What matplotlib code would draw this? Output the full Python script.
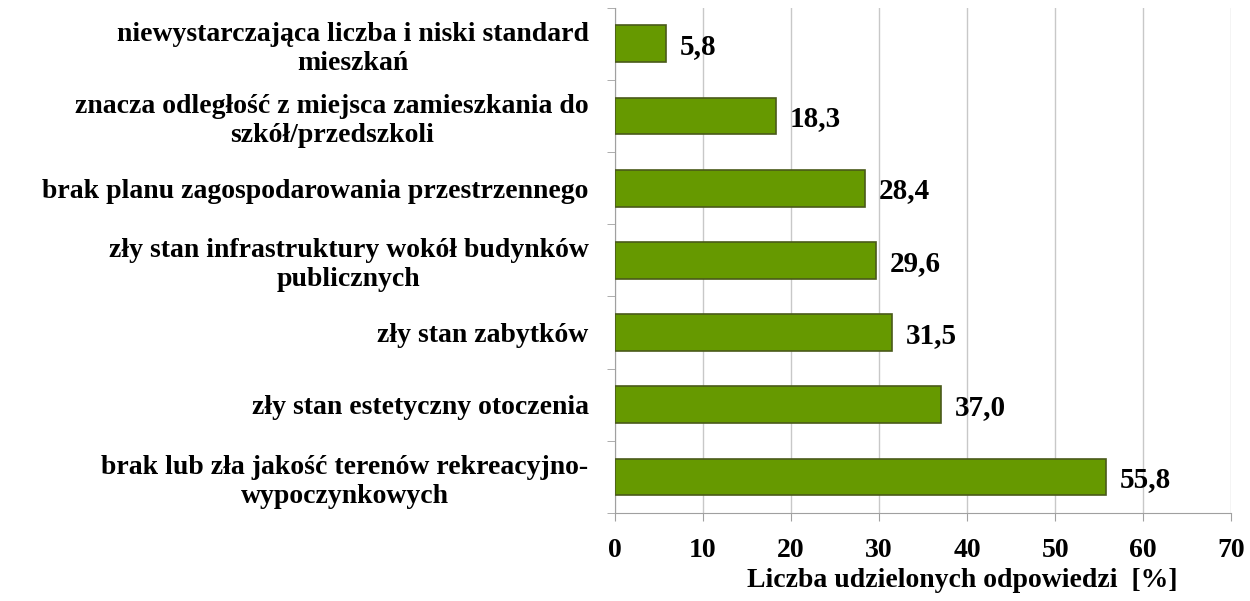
import matplotlib.pyplot as plt
import numpy as np

# kategorie (od góry do dołu) i wartości w %
kategorie = [
    'niewystarczająca liczba i niski standard\nmieszkań',
    'znacza odległość z miejsca zamieszkania do\nszkół/przedszkoli',
    'brak planu zagospodarowania przestrzennego',
    'zły stan infrastruktury wokół budynków\npublicznych',
    'zły stan zabytków',
    'zły stan estetyczny otoczenia',
    'brak lub zła jakość terenów rekreacyjno-\nwypoczynkowych',
]
wartosci = [5.8, 18.3, 28.4, 29.6, 31.5, 37.0, 55.8]
x_ticks = [0, 10, 20, 30, 40, 50, 60, 70]

plt.rcParams['font.family'] = ['Liberation Serif', 'DejaVu Serif']
plt.rcParams['font.weight'] = 'bold'

fig = plt.figure(figsize=(12.5, 6.01), dpi=100)
ax = fig.add_axes([0.492, 0.1464, 0.493, 0.8406])

n = len(kategorie)
y = np.arange(n)[::-1]
ax.barh(y, wartosci, height=0.51, color='#669900', edgecolor='#4a5a1a', linewidth=1.2, zorder=3)

for yi, v in zip(y, wartosci):
    ax.annotate(f'{v:.1f}'.replace('.', ','), (v, yi), xytext=(10, -2), textcoords='offset points',
                ha='left', va='center', fontsize=21, fontweight='bold', color='black')

ax.set_xlim(0, 70)
ax.set_ylim(-0.5, n - 0.5)
ax.set_xticks(x_ticks)
ax.set_xticklabels([str(t) for t in x_ticks], fontsize=20, fontweight='bold')
ax.set_yticks(y)
ax.set_yticklabels(kategorie, fontsize=20, fontweight='bold', multialignment='center')
ax.set_yticks(np.arange(-0.5, n, 1), minor=True)

ax.tick_params(axis='y', which='major', length=0, pad=19)
ax.tick_params(axis='y', which='minor', length=6, color='#a0a0a0', direction='out')
ax.tick_params(axis='x', length=6, color='#a0a0a0', pad=12)

ax.grid(axis='x', color='#c8c8c8', linewidth=1, zorder=0)
for s in ['top', 'right']:
    ax.spines[s].set_visible(False)
for s in ['left', 'bottom']:
    ax.spines[s].set_color('#a0a0a0')

ax.set_xlabel('Liczba udzielonych odpowiedzi  [%]', fontsize=20, fontweight='bold')
ax.xaxis.set_label_coords(0.563, -0.108)

plt.savefig('out.png', dpi=100)
